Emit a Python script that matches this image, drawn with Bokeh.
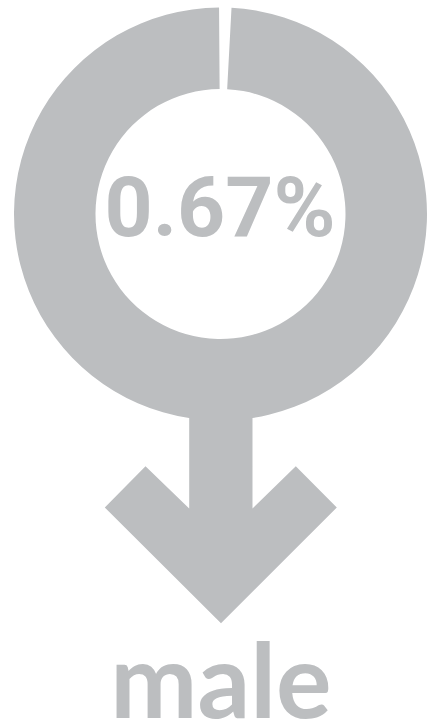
from math import pi
from bokeh.plotting import figure
from bokeh.models import Range1d
from bokeh.core.properties import value
from bokeh.embed import file_html
from bokeh.resources import INLINE

GREY = "#bcbec0"
W, H = 427, 723

# ring: share of the gap at the top (as drawn) and the rest, in percent of the circle
ring_shares = [0.96, 99.04]
ring_center = [220.0, 723 - 213.5]
ring_radii = [125.0, 206.5]
gap_start_deg = 90.4

# pictogram outline of the arrow, in picture units
arrow_x = [188.7, 188.7, 145.0, 104.3, 220.5, 336.3, 295.3, 252.0, 252.0]
arrow_y = [310.0, 215.0, 257.3, 216.0, 100.3, 216.0, 257.3, 215.0, 310.0]

value_label = ["0.67%"]
name_label = ["male"]

p = figure(width=W, height=H, output_backend="svg", toolbar_location=None,
           x_range=Range1d(0, W), y_range=Range1d(0, H), min_border=0)
p.axis.visible = False
p.grid.visible = False
p.outline_line_color = None
p.background_fill_color = "white"
p.margin = (0, 0, 0, 0)

start = gap_start_deg * pi / 180
gap = ring_shares[0] / 100 * 2 * pi
p.annular_wedge(x=[ring_center[0]], y=[ring_center[1]],
                inner_radius=ring_radii[0], outer_radius=ring_radii[1],
                start_angle=start, end_angle=start - gap,
                direction="anticlock",
                fill_color=GREY, line_color=None)
p.patch(arrow_x, arrow_y, fill_color=GREY, line_color=None)

p.text(x=[219.5], y=[723 - 238 + 31], text=value_label, text_font=value("Roboto"),
       text_font_style="bold", text_font_size="84px", text_color=GREY,
       text_align="center", text_baseline="alphabetic")
p.text(x=[220.5], y=[723 - 718 + 41], text=name_label, text_font=value("Lato"),
       text_font_style="bold", text_font_size="104px", text_color=GREY,
       text_align="center", text_baseline="alphabetic")

open("out.html", "w").write(file_html(p, INLINE))
